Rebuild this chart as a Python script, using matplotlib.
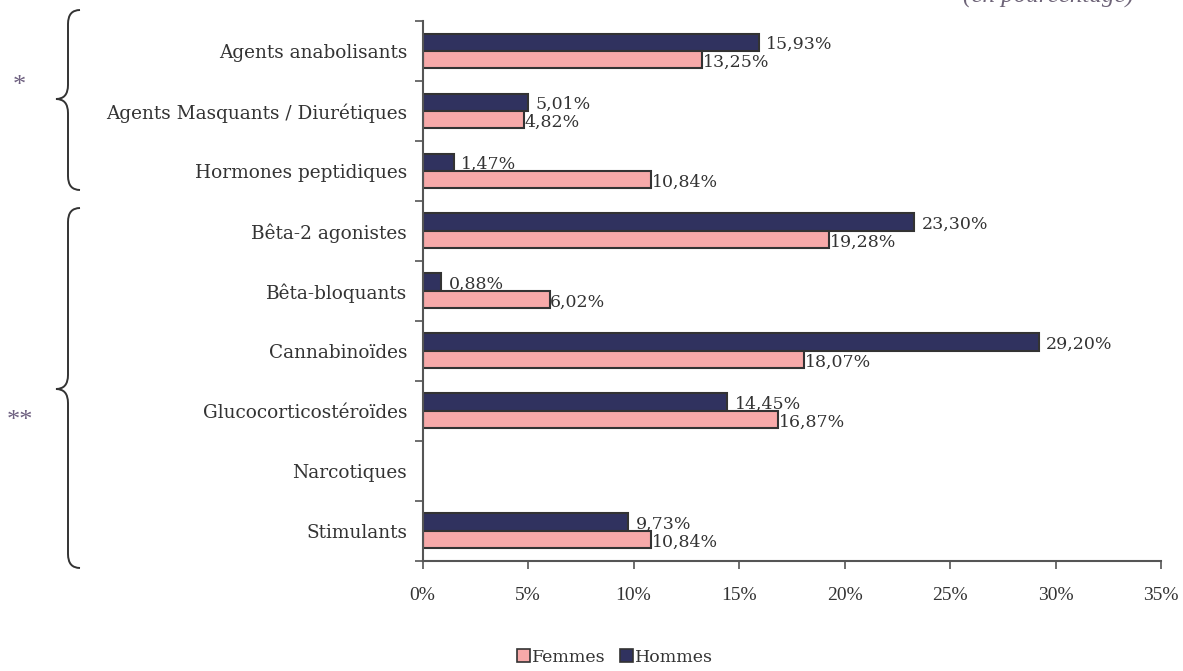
import numpy as np
import matplotlib
matplotlib.use("Agg")
import matplotlib.pyplot as plt
from matplotlib.path import Path
from matplotlib.patches import PathPatch, Patch

categories = [
    "Agents anabolisants",
    "Agents Masquants / Diurétiques",
    "Hormones peptidiques",
    "Bêta-2 agonistes",
    "Bêta-bloquants",
    "Cannabinoïdes",
    "Glucocorticostéroïdes",
    "Narcotiques",
    "Stimulants",
]
hommes = [15.93, 5.01, 1.47, 23.30, 0.88, 29.20, 14.45, None, 9.73]
femmes = [13.25, 4.82, 10.84, 19.28, 6.02, 18.07, 16.87, None, 10.84]
x_ticks = [0, 5, 10, 15, 20, 25, 30, 35]

COL_H = "#30325f"
COL_F = "#f7a9a9"
EDGE = "#333333"
TXT = "#333333"
STAR = "#6e6080"
SERIF = "DejaVu Serif"
NARROW = "Liberation Serif"
FS = 12.5

plt.rcParams["font.family"] = SERIF

W, H = 1183, 671
fig = plt.figure(figsize=(W / 100, H / 100), dpi=100)
ax = fig.add_axes([422.5 / W, 1 - 560.7 / H, (1161 - 422.5) / W, (560.7 - 21) / H])

n = len(categories)
pos = np.arange(n)
bh = 0.29

def fmt(v):
    return f"{v:.2f}".replace(".", ",") + "%"

for i, (h, f) in enumerate(zip(hommes, femmes)):
    if h is not None:
        ax.barh(i - bh / 2, h, height=bh, color=COL_H, edgecolor=EDGE, linewidth=1.5)
        ax.annotate(fmt(h), (h, i - bh / 2), xytext=(5.5, -1.5), textcoords="offset points",
                    ha="left", va="center", fontsize=FS, color=TXT)
    if f is not None:
        ax.barh(i + bh / 2, f, height=bh, color=COL_F, edgecolor=EDGE, linewidth=1.5)
        ax.annotate(fmt(f), (f, i + bh / 2), xytext=(0.5, -2), textcoords="offset points",
                    ha="left", va="center", fontsize=FS, color=TXT)

ax.set_xlim(0, 35)
ax.set_ylim(n - 0.5, -0.5)
ax.set_xticks(x_ticks)
ax.set_xticklabels([f"{t}%" for t in x_ticks])
for lab in ax.get_xticklabels():
    lab.set_fontfamily(NARROW)
    lab.set_fontsize(14)
    lab.set_color(TXT)
ax.set_yticks(np.arange(n + 1) - 0.5)
ax.set_yticklabels([])
ax.set_yticks(pos, minor=True)
ax.set_yticklabels(categories, minor=True, fontsize=13.3, color=TXT)
ax.tick_params(axis="y", which="minor", length=0, pad=11)
ax.tick_params(axis="y", which="major", length=6, width=1.2, color="#555555", direction="out")
ax.tick_params(axis="x", length=6, width=1.2, color="#555555", direction="out", pad=13)
for s in ["top", "right"]:
    ax.spines[s].set_visible(False)
for s in ["left", "bottom"]:
    ax.spines[s].set_color("#555555")
    ax.spines[s].set_linewidth(1.5)

# title, partly outside the canvas at the top edge
fig.text(1048 / W, 1 + 4 / H, "(en pourcentage)", ha="center", va="center",
         fontsize=18, style="italic", color="#6e6478", family=NARROW)

# group braces
def brace(x_end, x_spine, x_tip, y_top, y_tip, y_bot, r=14):
    pts = [
        (x_end, y_top),
        (x_spine, y_top), (x_spine, y_top + r),
        (x_spine, y_tip - r),
        (x_spine, y_tip), (x_tip, y_tip),
        (x_spine, y_tip), (x_spine, y_tip + r),
        (x_spine, y_bot - r),
        (x_spine, y_bot), (x_end, y_bot),
    ]
    codes = [Path.MOVETO, Path.CURVE3, Path.CURVE3, Path.LINETO,
             Path.CURVE3, Path.CURVE3, Path.CURVE3, Path.CURVE3,
             Path.LINETO, Path.CURVE3, Path.CURVE3]
    verts = [(x / W, 1 - y / H) for x, y in pts]
    fig.patches.append(PathPatch(Path(verts, codes), transform=fig.transFigure,
                                 fill=False, edgecolor="#333333", linewidth=1.4))

brace(80, 68, 56, 10, 99, 190)
brace(80, 68, 56, 208, 389, 568)
fig.text(19 / W, 1 - 86 / H, "*", ha="center", va="center", fontsize=19,
         color=STAR, family=NARROW)
fig.text(20 / W, 1 - 421 / H, "**", ha="center", va="center", fontsize=19,
         color=STAR, family=NARROW)

handles = [Patch(facecolor=COL_F, edgecolor=EDGE, linewidth=1.2, label="Femmes"),
           Patch(facecolor=COL_H, edgecolor=EDGE, linewidth=1.2, label="Hommes")]
fig.legend(handles=handles, loc="center", bbox_to_anchor=(615 / W, 1 - 657 / H), ncol=2,
           frameon=False, fontsize=FS, handlelength=0.75, handleheight=0.75,
           handletextpad=0.15, columnspacing=0.8, labelcolor=TXT)

fig.savefig("out.png", dpi=100)
